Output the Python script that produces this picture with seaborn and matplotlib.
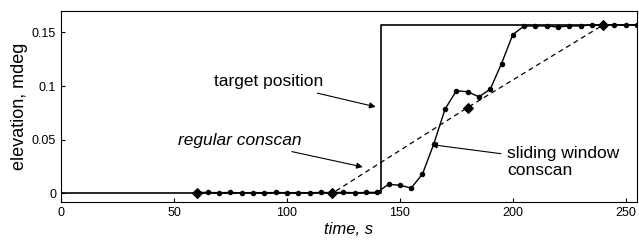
import numpy as np
import pandas as pd
import matplotlib
matplotlib.use("Agg")
import matplotlib.pyplot as plt
import seaborn as sns

# target position (step)
target_t = [0, 141.5, 141.5, 255]
target_v = [0, 0, 0.157, 0.157]

# regular conscan (one estimate per 60 s scan)
regular_t = [60, 120, 180, 240, 255]
regular_v = [0, 0, 0.08, 0.157, 0.157]

# sliding window conscan (every 5 s)
sliding_t = list(range(60, 256, 5))
sliding_v = [0.001, 0.0008, 0.0006, 0.0008, 0.0005, 0.0007, 0.0006, 0.0008, 0.0006,
             0.0007, 0.0006, 0.0008, 0.0007, 0.0009, 0.0006, 0.0008, 0.001,
             0.0085, 0.0075, 0.005, 0.018, 0.046, 0.0785, 0.0956, 0.0947, 0.09,
             0.097, 0.121, 0.148, 0.156, 0.156, 0.156, 0.155, 0.156, 0.156,
             0.157, 0.157, 0.157, 0.157, 0.157]

sns.set_style("ticks")
plt.rcParams['font.family'] = ['Liberation Sans', 'DejaVu Sans']
plt.rcParams['text.color'] = 'black'
plt.rcParams['axes.labelcolor'] = 'black'

fig = plt.figure(figsize=(6.39, 2.43), dpi=100)
ax = fig.add_axes([0.0955, 0.169, 0.9015, 0.786])

sns.lineplot(x=target_t, y=target_v, sort=False, estimator=None, color='black',
             linewidth=1.2, ax=ax)
sns.lineplot(x=regular_t, y=regular_v, sort=False, estimator=None, color='black',
             linewidth=0.9, linestyle=(0, (4, 3)), marker='D', markersize=5,
             markevery=[0, 1, 2, 3], markeredgecolor='black', ax=ax)
sns.lineplot(x=sliding_t, y=sliding_v, sort=False, estimator=None, color='black',
             linewidth=1.0, marker='o', markersize=3.2, markeredgecolor='black', ax=ax)

ax.set_xlim(0, 255)
ax.set_ylim(-0.008, 0.17)
ax.set_xticks([0, 50, 100, 150, 200, 250])
ax.set_yticks([0, 0.05, 0.1, 0.15])
ax.set_yticklabels(['0', '0.05', '0.1', '0.15'])
ax.tick_params(direction='in', labelsize=9, length=3, width=0.8, colors='black')
for s in ax.spines.values():
    s.set_visible(True)
    s.set_linewidth(0.8)
    s.set_color('black')

ax.set_xlabel('time, s', fontsize=12, style='italic', labelpad=2)
ax.set_ylabel('elevation, mdeg', fontsize=13, labelpad=3)

arrow = dict(arrowstyle='-|>', color='black', lw=0.8, mutation_scale=9)
ax.annotate('target position', xy=(140.5, 0.080), xytext=(92, 0.104),
            fontsize=12.5, ha='center', va='center', arrowprops=arrow)
ax.annotate('regular conscan', xy=(134.8, 0.024), xytext=(79, 0.0495),
            fontsize=12.5, ha='center', va='center', style='italic', arrowprops=arrow)
ax.annotate('sliding window\nconscan', xy=(162.6, 0.0458), xytext=(197.4, 0.0294),
            fontsize=12.5, ha='left', va='center', arrowprops=arrow)

fig.savefig('out.png', dpi=100)
